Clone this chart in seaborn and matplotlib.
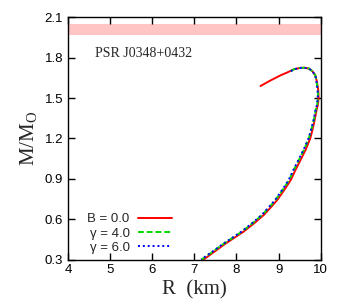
import numpy as np
import pandas as pd
import matplotlib
matplotlib.use("Agg")
import matplotlib.pyplot as plt
import seaborn as sns

# Curvas massa-raio
r_b0 = [8.57, 8.8, 9.05, 9.2, 9.36, 9.5, 9.6, 9.72, 9.80, 9.87, 9.91, 9.94, 9.95,
        9.93, 9.90, 9.85, 9.80, 9.75, 9.64, 9.52, 9.40, 9.29, 9.14, 8.97, 8.82,
        8.65, 8.42, 8.17, 7.94, 7.70, 7.46, 7.22]
m_b0 = [1.59, 1.63, 1.67, 1.69, 1.714, 1.724, 1.726, 1.72, 1.70, 1.67, 1.62, 1.56,
        1.50, 1.45, 1.41, 1.33, 1.26, 1.20, 1.115, 1.04, 0.966, 0.892, 0.82, 0.744,
        0.69, 0.632, 0.57, 0.508, 0.46, 0.41, 0.355, 0.30]

r_g4 = [9.29, 9.36, 9.5, 9.6, 9.72, 9.80, 9.87, 9.90, 9.93, 9.935, 9.915, 9.88,
        9.83, 9.77, 9.715, 9.60, 9.48, 9.36, 9.25, 9.10, 8.93, 8.78, 8.61, 8.38,
        8.13, 7.90, 7.66, 7.42, 7.17]
m_g4 = [1.70, 1.714, 1.724, 1.726, 1.72, 1.70, 1.67, 1.62, 1.56, 1.50, 1.45, 1.41,
        1.33, 1.26, 1.20, 1.115, 1.04, 0.966, 0.892, 0.82, 0.744, 0.69, 0.632, 0.57,
        0.508, 0.46, 0.41, 0.355, 0.30]

r_g6 = [9.29, 9.36, 9.5, 9.6, 9.72, 9.80, 9.87, 9.90, 9.925, 9.93, 9.91, 9.875,
        9.825, 9.765, 9.71, 9.59, 9.47, 9.35, 9.24, 9.09, 8.92, 8.77, 8.60, 8.37,
        8.12, 7.89, 7.65, 7.41, 7.16]
m_g6 = [1.70, 1.714, 1.724, 1.726, 1.72, 1.70, 1.67, 1.62, 1.56, 1.50, 1.45, 1.41,
        1.33, 1.26, 1.20, 1.115, 1.04, 0.966, 0.892, 0.82, 0.744, 0.69, 0.632, 0.57,
        0.508, 0.46, 0.41, 0.355, 0.30]

rotulos = ["B = 0.0", "γ = 4.0", "γ = 6.0"]
cores = ["#ff0000", "#00dd00", "#0000ff"]
estilos = ["-", (0, (3, 1.5)), (0, (1, 1.5))]

# faixa de massa do pulsar
faixa = (1.97, 2.05)

sns.set_style("ticks")
plt.rcParams['font.family'] = ['Liberation Sans', 'DejaVu Sans']
plt.rcParams['mathtext.fontset'] = 'custom'
plt.rcParams['mathtext.rm'] = 'Liberation Serif'
plt.rcParams['mathtext.it'] = 'Liberation Serif:italic'

fig, ax = plt.subplots(figsize=(3.38, 3.05), dpi=100)
fig.subplots_adjust(left=0.201, right=0.949, top=0.943, bottom=0.149)

ax.axhspan(faixa[0], faixa[1], color="#ffc4c4", lw=0, zorder=0)

series = [(r_b0, m_b0), (r_g4, m_g4), (r_g6, m_g6)]
for (r, m), lab, c, ls in zip(series, rotulos, cores, estilos):
    df = pd.DataFrame({"R": r, "M": m})
    sns.lineplot(data=df, x="R", y="M", sort=False, estimator=None, ax=ax,
                 color=c, linestyle=ls, lw=1.4, label=lab)

ax.set_xlim(4, 10)
ax.set_ylim(0.3, 2.1)
ax.set_xticks(np.arange(4, 11, 1))
ax.set_yticks(np.arange(0.3, 2.11, 0.3))
ax.set_yticklabels([f"{v:.1f}" for v in np.arange(0.3, 2.11, 0.3)])
ax.tick_params(direction="in", top=True, right=True, length=5, width=1,
               labelsize=9.5, colors="black")
for s in ax.spines.values():
    s.set_linewidth(1)
    s.set_color("black")

ax.set_xlabel("R  (km)", family="Liberation Serif", fontsize=15, labelpad=3)
ax.set_ylabel(r"M/M$_{\rm O}$", family="Liberation Serif", fontsize=15, labelpad=4)

ax.text(4.64, 1.83, "PSR J0348+0432", family="Liberation Serif", fontsize=10,
        va="center", ha="left")

ax.legend(loc="lower left", bbox_to_anchor=(0.03, -0.025), frameon=False,
          markerfirst=False, handlelength=2.6, fontsize=9.5, labelspacing=0.15,
          handletextpad=0.6)

plt.savefig("out.png", dpi=100)
